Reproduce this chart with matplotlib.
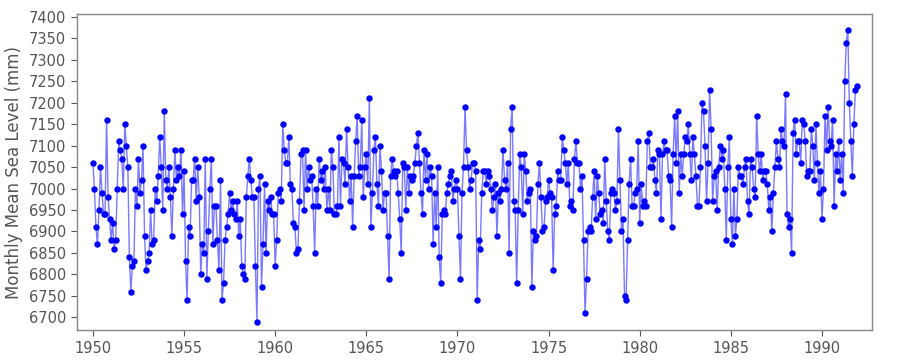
import numpy as np
import matplotlib
matplotlib.use("Agg")
import matplotlib.pyplot as plt

# Monthly mean sea level (mm), Jan 1950 - Dec 1991
start_year = 1950
sea_level = [
    # 1950 - 1953
    7060, 7000, 6910, 6870, 6950, 7050, 6990, 6940, 6940, 7160,
    6980, 6930, 6880, 6920, 6860, 6880, 7000, 7110, 7090, 7070,
    7000, 7150, 7100, 7050, 6840, 6760, 6820, 6830, 7000, 6960,
    7070, 6990, 7020, 7100, 6890, 6810, 6830, 6850, 6950, 6870,
    6880, 7000, 6970, 7030, 7120, 7050, 6950, 7180, 7020, 7000,
    7050, 6980, 6890, 7000, 7090, 7020, 7050, 7030, 7090, 6940,
    7040, 6830, 6740, 6910, 6890, 7020, 7020, 7070, 6970, 7050,
    6980, 6800, 6870, 6850, 7070, 6790, 6900, 7000, 7070, 6870,
    6960, 6960, 6880, 6810,
    # 1957 - 1960
    7020, 6740, 6780, 6880, 6910, 6940, 6990, 6950, 6970, 6940,
    6930, 6970, 6890, 6930, 6820, 6800, 6790, 6980, 7030, 7070,
    7020, 6980, 6980, 6820, 6690, 7000, 7030, 6770, 6870, 7010,
    6850, 6970, 6950, 6980, 6940, 6940, 6820, 6880, 6990, 7000,
    6970, 7150, 7090,
    7060, 7060, 7120, 7010, 7000, 6920, 6910, 6850, 6860, 6970,
    7080, 7090, 6950, 7090, 7000, 7050, 7020, 7030, 6960, 6850,
    7000, 6960, 7070, 7020, 7040, 7000, 7050, 6950, 7000, 6950,
    7090, 7050, 6940, 6940, 6960, 7120, 6960, 7070, 7060, 7010,
    7140, 7050, 6970,
    # 1964 - 1967
    7030, 6910, 7030, 7110, 7170, 7030, 7050, 7160, 6980, 7050,
    7080, 7010, 7210, 6910, 6990, 7090, 7120, 7010, 6960, 7100,
    7040, 6950, 6990, 6990, 6890, 6790, 7030, 7070, 7040, 7030,
    7040, 6990, 6930, 6850, 7060, 7050, 6950, 7050, 6990, 7030,
    7020, 7030, 7060, 7100,
    7130, 7060, 6990, 6940, 7090, 7020, 7080, 7000, 7050, 7030,
    6870, 6990, 6910, 7050, 6840, 6780, 6940, 6950, 6940, 6990,
    7010, 7030, 7040, 6970, 7000, 7020, 7000, 6890, 6790, 6990,
    7050, 7190, 7090, 7050, 7000, 7020, 7060, 7060, 7040, 6740,
    6880, 6860, 6990,
    # 1971 - 1974
    7040, 7040, 7010, 7040, 7030, 7000, 6950, 6980, 7010, 6890,
    6990, 6970, 7000, 7090, 7020, 7000, 7060, 6850, 7140, 7190,
    6970, 6950, 6780, 6950, 7080, 7050, 6940, 7080, 7040, 6970,
    6990, 7000, 6770, 6900, 6880, 6890, 7010, 7060, 6980, 6900,
    6910, 6970, 6980, 7020,
    6990, 6980, 6810, 6940, 6960, 7040, 7020, 7020, 7120, 7090,
    7060, 7010, 7060, 6960, 6970, 6950, 7070, 7110, 7060, 7060,
    7000, 7030, 6880, 6710, 6790, 6900, 6910, 6900, 6980, 7040,
    6930, 7030, 6990, 6940, 6950, 6920, 7070, 6970, 6900, 6880,
    6990, 7000, 6990,
    # 1978 - 1981
    6950, 6970, 7140, 7020, 6900, 6930, 6750, 6740, 6880, 7010,
    7070, 6960, 6960, 6990, 7000, 7110, 6920, 7010, 6960, 6970,
    6960, 7110, 7130, 7050, 7050, 7070, 7020, 6990, 7090, 7080,
    6930, 7080, 7110, 7090, 7090, 7030, 7020, 6910, 7080, 7170,
    7060, 7180, 6990,
    7080, 7030, 7080, 7120, 7110, 7150, 7080, 7020, 7120, 7080,
    7030, 6960, 6960, 7050, 7200, 7180, 7100, 6970, 7060, 7230,
    7140, 6970, 7030, 7040, 6950, 7050, 7100, 7070, 7090, 7000,
    6880, 7050, 7120, 6930, 6870, 7000, 6890, 6930, 7050, 7030,
    7030, 7010, 7050, 7070,
    # 1985 - 1991
    6970, 6940, 7070, 7050, 7000, 6980, 7170, 7080, 7040, 7080,
    7020, 7040, 7040, 7010, 6950, 6980, 6900, 6990, 7050, 7110,
    7070, 7050, 7140, 7110, 7100, 7220, 6940, 6910, 6930, 6850,
    7130, 7160, 7080, 7110, 7110, 7060, 7160, 7150, 7110, 7030,
    7040, 7040, 7140,
    7100, 7020, 7150, 7060, 6990, 7040, 6930, 7000, 7170, 7090,
    7190, 7110, 7100, 7160, 6960, 7080, 7040, 7110, 7020, 7080,
    6990, 7250, 7340, 7370, 7200, 7110, 7030, 7150, 7230, 7240,
]

years = start_year + np.arange(len(sea_level)) / 12.0

fig = plt.figure(figsize=(9, 3.6), dpi=100)
ax = fig.add_axes([0.085, 0.083, 0.884, 0.877])

ax.plot(years, sea_level, color="#7a7aff", linewidth=1.0, zorder=1)
ax.plot(years, sea_level, linestyle="none", marker="o", markersize=3.6,
        color="#0000ff", zorder=2)

ax.set_xlim(1949.1, 1992.75)
ax.set_ylim(6670, 7406)
ax.set_xticks(np.arange(1950, 1991, 5))
ax.set_yticks(np.arange(6700, 7401, 50))

label_col = "#555555"
ax.tick_params(axis="both", labelsize=10.5, colors=label_col, length=4, width=0.8)
ax.set_ylabel("Monthly Mean Sea Level (mm)", fontsize=12, color=label_col)
for sp in ax.spines.values():
    sp.set_color("#888888")
    sp.set_linewidth(1.0)

fig.savefig("out.png", dpi=100)
